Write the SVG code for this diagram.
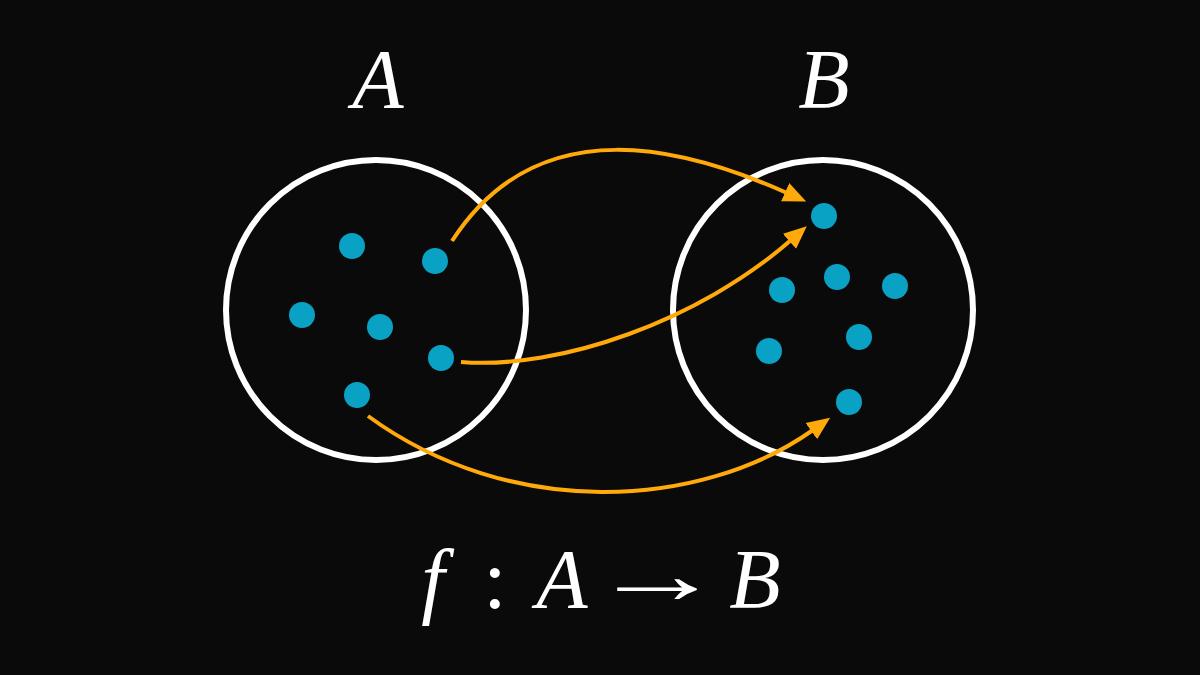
<svg xmlns="http://www.w3.org/2000/svg" width="1200" height="675" viewBox="0 0 1200 675">
<style>
.set{fill:none;stroke:#fff;stroke-width:6}
.dot{fill:#0aa2c4}
.lbl{font-family:"Liberation Serif","DejaVu Serif",serif;font-style:italic;font-size:84px;fill:#fff}
.conn{fill:none;stroke:#ffa90a;stroke-width:4}
.m{font-family:"Liberation Serif","DejaVu Serif",serif;font-size:84px;fill:#fff}
.mi{font-family:"Liberation Serif","DejaVu Serif",serif;font-style:italic;font-size:84px;fill:#fff}
</style>
<defs>
<marker id="ah" markerUnits="userSpaceOnUse" markerWidth="24" markerHeight="22" viewBox="0 -11 24 22" refX="2" refY="0" orient="auto">
<path d="M0,-10 L23,0 L0,10 z" fill="#ffa90a"/>
</marker>
</defs>
<rect width="1200" height="675" fill="#0a0a0a"/>
<g id="setA">
<circle class="set" cx="376" cy="310" r="150"/>
<text class="lbl" x="378" y="108" text-anchor="middle">A</text>
<circle class="dot" cx="352" cy="246" r="13"/>
<circle class="dot" cx="435" cy="261" r="13"/>
<circle class="dot" cx="302" cy="315" r="13"/>
<circle class="dot" cx="380" cy="327" r="13"/>
<circle class="dot" cx="441" cy="358" r="13"/>
<circle class="dot" cx="357" cy="395" r="13"/>
</g>
<g id="setB">
<circle class="set" cx="823" cy="310" r="150"/>
<text class="lbl" x="824" y="108" text-anchor="middle">B</text>
<circle class="dot" cx="824" cy="216" r="13"/>
<circle class="dot" cx="782" cy="290" r="13"/>
<circle class="dot" cx="837" cy="277" r="13"/>
<circle class="dot" cx="895" cy="286" r="13"/>
<circle class="dot" cx="859" cy="337" r="13"/>
<circle class="dot" cx="769" cy="351" r="13"/>
<circle class="dot" cx="849" cy="402" r="13"/>
</g>
<g id="connectors">
<path class="conn" marker-end="url(#ah)" d="M452,241 C540,105 690,150 787,193"/>
<path class="conn" marker-end="url(#ah)" d="M461,362 C560,370 700,320 791,240"/>
<path class="conn" marker-end="url(#ah)" d="M368,416 C510,520 700,510 813,430"/>
</g>
<g id="formula">
<text class="mi" x="433" y="608" text-anchor="middle">f</text>
<text class="m" x="495" y="608" text-anchor="middle">:</text>
<text class="mi" x="562" y="608" text-anchor="middle">A</text>
<text class="m" transform="translate(657,603) scale(1.6,1)" text-anchor="middle">→</text>
<text class="mi" x="755" y="608" text-anchor="middle">B</text>
</g>
</svg>
